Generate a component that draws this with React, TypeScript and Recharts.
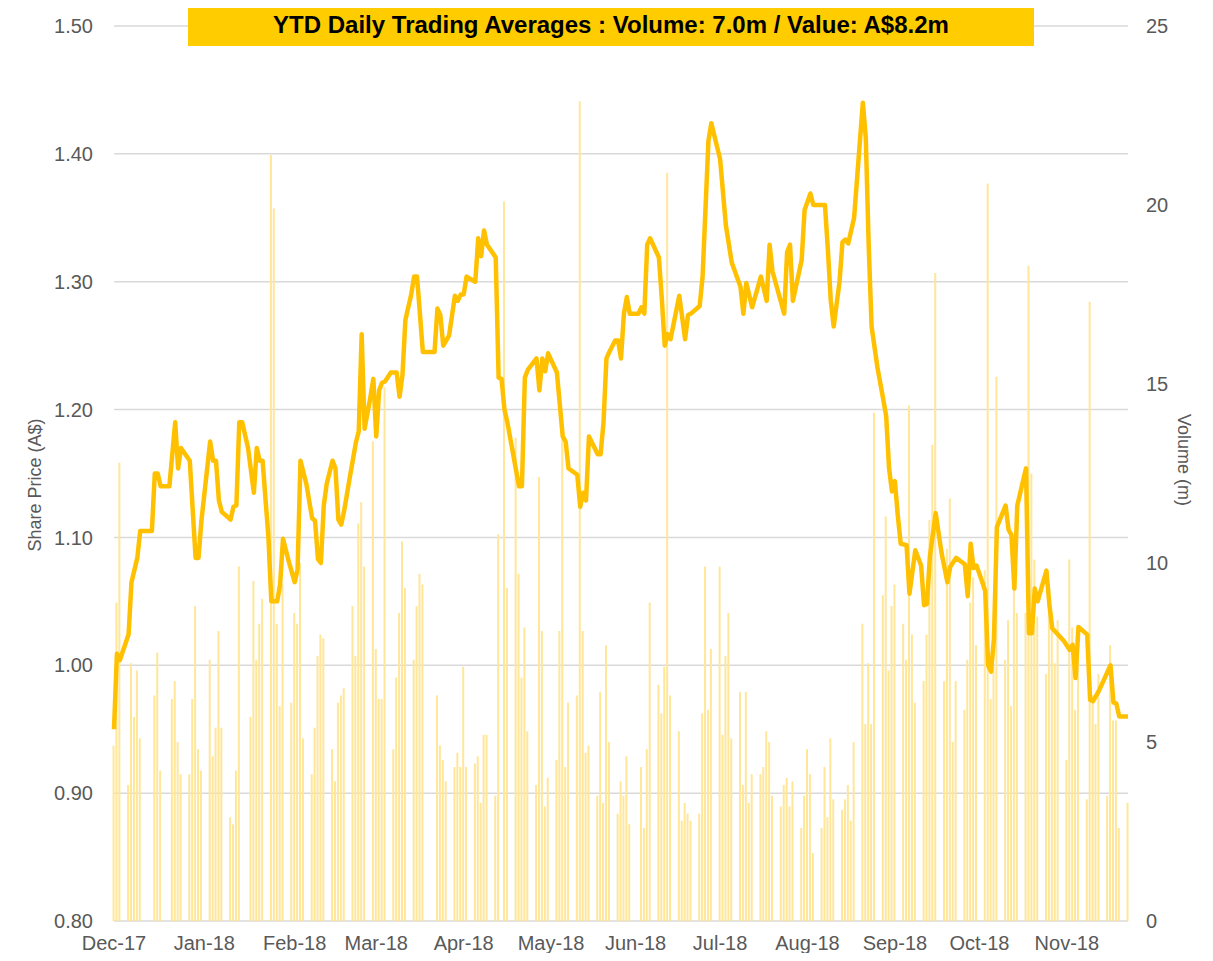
import { ComposedChart, Bar, Line, XAxis, YAxis, CartesianGrid } from 'recharts';

// day 0 = 13 Dec 2017, last trading day in the chart = 26 Nov 2018
const START = '2017-12-13';
const LAST_DAY = 348;

// dates where the month labels sit on the axis
const monthTickDates = [
  '2017-12-13', '2018-01-13', '2018-02-13', '2018-03-13', '2018-04-12', '2018-05-12',
  '2018-06-10', '2018-07-09', '2018-08-08', '2018-09-07', '2018-10-06', '2018-11-05',
];
const monthLabels = [
  'Dec-17', 'Jan-18', 'Feb-18', 'Mar-18', 'Apr-18', 'May-18',
  'Jun-18', 'Jul-18', 'Aug-18', 'Sep-18', 'Oct-18', 'Nov-18',
];

const asxHolidays = [
  '2017-12-25', '2017-12-26', '2018-01-01', '2018-01-26',
  '2018-03-30', '2018-04-02', '2018-04-25', '2018-06-11',
];

// daily volume (m), one value per trading day
const volDec17 = [4.9, 8.9, 12.8, 3.8, 7.2, 5.7, 7.0, 5.1, 6.3, 7.5, 4.2];
const volJan18 = [6.2, 6.7, 5.0, 4.1, 4.1, 6.2, 8.8, 4.8, 4.2, 7.3, 4.6, 5.4, 8.1, 5.4, 2.9, 2.7, 4.2, 9.9, 5.7, 9.5, 7.3];
const volFeb18 = [8.3, 9.0, 21.4, 19.9, 8.3, 6.0, 9.4, 6.1, 8.6, 8.3, 10.0, 5.1, 4.1, 5.4, 7.4, 8.0, 7.9, 4.8, 3.9, 6.1];
const volMar18 = [6.3, 6.5, 8.8, 7.4, 11.1, 11.7, 9.9, 13.4, 7.6, 6.2, 6.2, 14.9, 4.8, 6.8, 8.6, 10.6, 9.3, 7.3, 8.8, 9.7, 9.4];
const volApr18 = [6.3, 4.9, 4.5, 3.9, 4.3, 4.7, 4.3, 7.1, 4.3, 4.4, 4.6, 3.3, 5.2, 5.2, 3.5, 10.8, 20.1, 9.3, 13.5];
const volMay18 = [9.7, 6.8, 8.2, 5.3, 3.8, 12.4, 8.1, 3.2, 4.0, 4.5, 8.1, 13.5, 4.3, 6.1, 6.3, 22.9, 8.1, 4.7, 4.9, 3.5, 6.4, 3.3, 7.7];
const volJun18 = [5.0, 3.0, 3.9, 3.5, 4.6, 2.7, 4.3, 2.6, 4.8, 8.9, 6.6, 5.8, 7.1, 20.9, 6.3, 5.3, 2.8, 3.3, 3.0, 2.8];
const volJul18 = [3.0, 5.8, 9.9, 5.9, 7.6, 9.9, 5.2, 7.4, 8.6, 5.1, 6.4, 3.8, 6.4, 3.3, 4.1, 4.1, 4.3, 5.3, 5.0, 3.5, 3.2, 3.8];
const volAug18 = [4.0, 3.2, 3.9, 2.6, 3.5, 4.8, 4.1, 1.9, 2.6, 4.3, 2.9, 5.1, 3.4, 3.1, 3.4, 3.8, 2.8, 5.0, 8.3, 5.5, 7.2, 5.5, 14.2];
const volSep18 = [9.1, 11.3, 7.0, 8.8, 9.4, 8.3, 7.3, 14.4, 8.0, 6.1, 6.7, 8.0, 11.2, 13.3, 18.1, 6.7, 10.4, 11.8, 5.0, 6.7];
const volOct18 = [5.9, 7.3, 8.9, 9.6, 7.7, 9.8, 20.6, 6.2, 7.1, 15.2, 7.3, 8.4, 6.0, 9.7, 8.6, 8.6, 18.3, 12.5, 10.1, 8.5, 6.9, 8.8, 8.2];
const volNov18 = [7.2, 8.4, 4.5, 10.1, 8.2, 5.9, 7.7, 3.4, 17.3, 6.3, 5.5, 6.9, 3.5, 7.7, 5.6, 5.6, 2.6, 3.3];

// share price line: day offset and price (A$) at each turn of the line
const lineDay = [
  0, 1, 2, 5, 6, 8, 9, 13, 14, 15, 16, 19, 21, 22, 23, 26, 28, 29, 30, 33, 34, 35, 36, 37, 40, 41, 42, 43, 44, 46,
  48, 49, 50, 51, 53, 54, 56, 57, 58, 60, 62, 63, 64, 66, 68, 69, 70, 71, 72, 73, 75, 76, 77, 78, 79, 81, 83, 84, 85, 86,
  88, 89, 90, 91, 92, 93, 95, 97, 98, 99, 100, 102, 103, 104, 106, 110, 111, 112, 113, 114, 115, 117, 118, 119, 120, 121, 124, 125, 126, 127,
  128, 131, 132, 133, 134, 135, 139, 140, 141, 142, 145, 146, 147, 148, 149, 152, 153, 154, 155, 156, 159, 160, 161, 162, 163, 166, 167, 168, 169, 170,
  172, 173, 174, 175, 176, 177, 180, 181, 182, 183, 184, 187, 188, 189, 190, 191, 194, 196, 197, 198, 201, 202, 204, 205, 208, 210, 212, 215, 216, 217,
  219, 222, 224, 225, 226, 230, 231, 232, 233, 236, 237, 239, 240, 244, 245, 246, 247, 249, 250, 251, 252, 254, 257, 258, 259, 260, 262, 264, 265, 266,
  267, 268, 269, 270, 272, 273, 275, 277, 278, 279, 280, 282, 284, 286, 287, 289, 292, 293, 294, 295, 296, 298, 299, 300, 301, 302, 303, 306, 307, 308,
  309, 310, 313, 314, 315, 316, 317, 320, 321, 322, 326, 328, 329, 330, 331, 334, 335, 336, 338, 342, 343, 344, 345, 348,
];
const linePrice = [
  0.95, 1.009, 1.004, 1.024, 1.065, 1.084, 1.105, 1.105, 1.15, 1.15, 1.14, 1.14, 1.19, 1.154, 1.17, 1.16, 1.084, 1.084, 1.113, 1.175, 1.16, 1.16, 1.129, 1.12, 1.114, 1.124, 1.125, 1.19, 1.19, 1.17,
  1.135, 1.17, 1.16, 1.16, 1.10, 1.05, 1.05, 1.063, 1.099, 1.081, 1.065, 1.075, 1.16, 1.142, 1.115, 1.113, 1.083, 1.08, 1.125, 1.142, 1.16, 1.154, 1.114, 1.11, 1.121, 1.148, 1.174, 1.183, 1.259, 1.185,
  1.21, 1.224, 1.179, 1.215, 1.221, 1.222, 1.229, 1.229, 1.21, 1.227, 1.27, 1.29, 1.304, 1.304, 1.245, 1.245, 1.279, 1.274, 1.25, 1.254, 1.258, 1.289, 1.285, 1.29, 1.29, 1.304, 1.30, 1.334, 1.32, 1.34,
  1.329, 1.319, 1.225, 1.224, 1.20, 1.19, 1.14, 1.14, 1.225, 1.231, 1.24, 1.215, 1.24, 1.23, 1.244, 1.229, 1.204, 1.179, 1.175, 1.154, 1.149, 1.124, 1.135, 1.129, 1.179, 1.165, 1.165, 1.19, 1.24, 1.245,
  1.254, 1.254, 1.24, 1.275, 1.288, 1.275, 1.275, 1.28, 1.275, 1.329, 1.334, 1.319, 1.287, 1.25, 1.259, 1.255, 1.289, 1.255, 1.274, 1.275, 1.281, 1.304, 1.41, 1.424, 1.396, 1.344, 1.315, 1.296, 1.275, 1.299,
  1.28, 1.304, 1.285, 1.329, 1.308, 1.275, 1.323, 1.329, 1.285, 1.317, 1.356, 1.369, 1.36, 1.36, 1.325, 1.285, 1.265, 1.30, 1.331, 1.333, 1.33, 1.35, 1.44, 1.413, 1.329, 1.265, 1.233, 1.208, 1.195, 1.154,
  1.136, 1.144, 1.117, 1.095, 1.094, 1.056, 1.09, 1.078, 1.047, 1.048, 1.085, 1.119, 1.088, 1.065, 1.077, 1.084, 1.079, 1.054, 1.095, 1.076, 1.078, 1.065, 1.058, 1.00, 0.995, 1.021, 1.108, 1.125, 1.106, 1.102,
  1.06, 1.125, 1.154, 1.025, 1.025, 1.06, 1.05, 1.074, 1.048, 1.029, 1.019, 1.012, 1.016, 0.99, 1.03, 1.024, 0.973, 0.972, 0.98, 1.00, 0.971, 0.97, 0.96, 0.96,
];

const priceTicks = [0.8, 0.9, 1.0, 1.1, 1.2, 1.3, 1.4, 1.5];
const volumeTicks = [0, 5, 10, 15, 20, 25];

const DAY_MS = 86400000;
const startMs = Date.parse(START + 'T00:00:00Z');
const dayOf = (iso: string) => Math.round((Date.parse(iso + 'T00:00:00Z') - startMs) / DAY_MS);

function buildData() {
  const volumes = [
    ...volDec17, ...volJan18, ...volFeb18, ...volMar18, ...volApr18, ...volMay18,
    ...volJun18, ...volJul18, ...volAug18, ...volSep18, ...volOct18, ...volNov18,
  ];
  const rows = new Map<number, { d: number; vol?: number; price?: number }>();
  let i = 0;
  for (let d = 0; d <= LAST_DAY; d++) {
    const dt = new Date(startMs + d * DAY_MS);
    const wd = dt.getUTCDay();
    if (wd === 0 || wd === 6 || asxHolidays.includes(dt.toISOString().slice(0, 10))) continue;
    if (i < volumes.length) rows.set(d, { d, vol: volumes[i] });
    i++;
  }
  lineDay.forEach((d, k) => {
    const row = rows.get(d) ?? { d };
    row.price = linePrice[k];
    rows.set(d, row);
  });
  return [...rows.values()].sort((a, b) => a.d - b.d);
}

const data = buildData();
const xTicks = monthTickDates.map(dayOf);

const FONT = '"Liberation Sans", Arial, sans-serif';
const GREY = '#595959';
const tickStyle = { fill: GREY, fontSize: 20, fontFamily: FONT };

export default function App() {
  return (
    <div style={{ position: 'relative', width: 1213, height: 961, margin: -8, background: '#fff', fontFamily: FONT }}>
      <ComposedChart width={1213} height={961} data={data} margin={{ top: 26, right: 0, bottom: 0, left: 0 }}>
        <CartesianGrid yAxisId="price" vertical={false} stroke="#D9D9D9" strokeWidth={1.5} />
        <XAxis
          type="number"
          dataKey="d"
          domain={[0, LAST_DAY]}
          ticks={xTicks}
          tickFormatter={(v: number) => monthLabels[xTicks.indexOf(v)] ?? ''}
          height={40}
          axisLine={false}
          tickLine={false}
          tickMargin={9}
          tick={tickStyle}
          interval={0}
        />
        <YAxis
          yAxisId="price"
          orientation="left"
          width={114}
          domain={[0.8, 1.5]}
          ticks={priceTicks}
          tickFormatter={(v: number) => v.toFixed(2)}
          axisLine={false}
          tickLine={false}
          tickMargin={15}
          tick={tickStyle}
          allowDataOverflow
        />
        <YAxis
          yAxisId="vol"
          orientation="right"
          width={85}
          domain={[0, 25]}
          ticks={volumeTicks}
          axisLine={false}
          tickLine={false}
          tickMargin={12}
          tick={{ ...tickStyle, textAnchor: 'start' }}
          allowDataOverflow
        />
        <Bar yAxisId="vol" dataKey="vol" fill="#FFE699" barSize={2} isAnimationActive={false} />
        <Line
          yAxisId="price"
          type="linear"
          dataKey="price"
          stroke="#FFC000"
          strokeWidth={4.5}
          strokeLinejoin="round"
          dot={false}
          activeDot={false}
          connectNulls
          isAnimationActive={false}
        />
      </ComposedChart>

      <div
        style={{
          position: 'absolute', left: 188, top: 3, width: 846, height: 43,
          background: '#FFCC00', color: '#000', fontWeight: 'bold', fontSize: 24,
          display: 'flex', alignItems: 'center', justifyContent: 'center', whiteSpace: 'nowrap',
        }}
      >
        YTD Daily Trading Averages : Volume: 7.0m / Value: A$8.2m
      </div>
      <div
        style={{
          position: 'absolute', left: 35, top: 485, color: GREY, fontSize: 18, whiteSpace: 'nowrap',
          transform: 'translate(-50%, -50%) rotate(-90deg)',
        }}
      >
        Share Price (A$)
      </div>
      <div
        style={{
          position: 'absolute', left: 1183, top: 460, color: GREY, fontSize: 18, whiteSpace: 'nowrap',
          transform: 'translate(-50%, -50%) rotate(90deg)',
        }}
      >
        Volume (m)
      </div>
    </div>
  );
}
